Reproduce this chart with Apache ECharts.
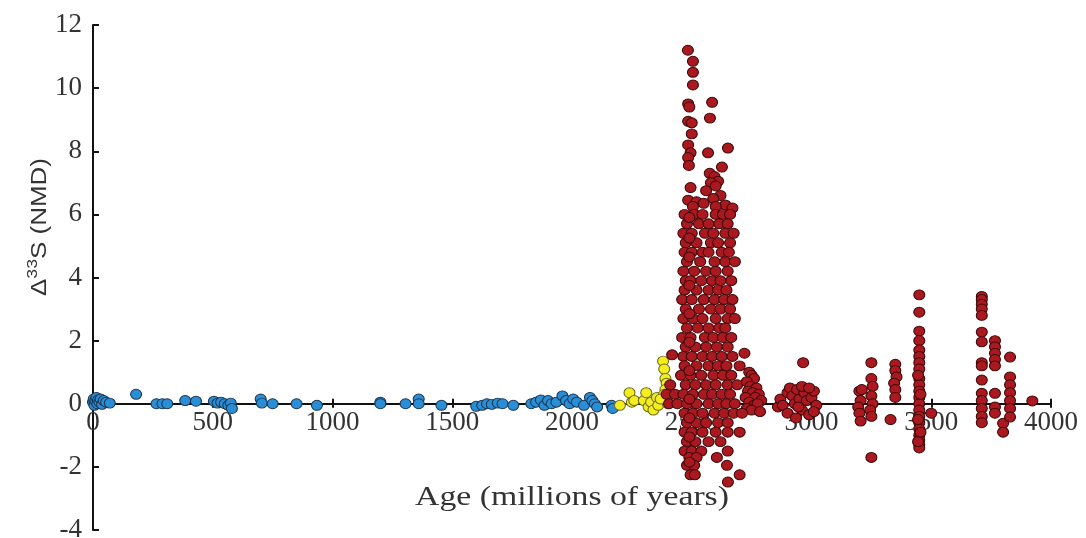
<!DOCTYPE html>
<html>
<head>
<meta charset="utf-8">
<script src="https://cdn.jsdelivr.net/npm/echarts@6/dist/echarts.min.js"></script>
<style>html,body{margin:0;padding:0;background:#fff;}#c{width:1086px;height:538px;}</style>
</head>
<body>
<div id="c"></div>
<script>
// ---- data (age in millions of years, Δ33S) ----
var xTicks = [0, 500, 1000, 1500, 2000, 2500, 3000, 3500, 4000];
var yTicks = [-4, -2, 0, 2, 4, 6, 8, 10, 12];

var bluePoints = [
  [0,0.05],[3,0.15],[6,-0.05],[10,0.1],[14,0.2],[18,0.0],[22,0.12],[27,0.05],[32,0.15],[38,-0.02],[45,0.1],[55,0.05],[70,0.02],
  [180,0.3],
  [265,0.0],[290,0.0],[310,0.0],
  [385,0.1],[430,0.08],
  [505,0.08],[520,0.02],[535,0.05],[550,0.0],[565,-0.05],[575,0.02],[580,-0.15],
  [700,0.15],[705,0.02],[750,0.0],[850,0.0],[935,-0.05],
  [1200,0.05],[1200,0.0],[1305,0.0],[1360,0.15],[1360,0.0],[1455,-0.05],
  [1600,-0.08],[1625,-0.05],[1645,0.0],[1665,-0.02],[1690,0.02],[1710,0.0],[1755,-0.05],
  [1830,0.0],[1850,0.05],[1870,0.12],[1885,-0.05],[1900,0.1],[1915,0.0],[1935,0.05],[1960,0.25],[1975,0.1],[1990,0.0],
  [2005,0.15],[2020,0.05],[2050,-0.05],[2075,0.2],[2085,0.1],[2095,0.0],[2105,-0.1],[2165,-0.05],[2170,-0.15]
];

var yellowPoints = [
  [2200,-0.05],[2240,0.35],[2250,0.05],[2260,0.1],[2300,0.1],[2310,0.35],[2320,-0.1],[2330,0.05],[2340,-0.2],
  [2355,0.2],[2360,-0.05],[2380,1.35],[2385,1.1],[2390,0.8],[2395,0.65],[2390,0.45],[2385,0.3],[2395,0.1],[2400,0.0],[2370,0.15]
];

var redPoints = [
  // upper spike
  [2484,11.2],[2505,10.85],[2505,10.5],[2505,10.1],[2485,9.5],[2490,9.4],[2585,9.55],[2485,8.95],[2500,8.9],[2576,9.05],
  [2500,8.55],[2485,8.2],[2568,7.95],[2651,8.1],[2495,7.95],[2485,7.8],[2488,7.55],[2626,7.5],[2575,7.3],[2595,7.2],
  [2610,7.05],[2580,7.0],[2600,6.9],[2495,6.85],[2560,6.75],[2620,6.6],[2590,6.5],[2485,6.45],[2520,6.4],[2550,6.35],
  [2640,6.3],[2670,6.2],[2505,6.25],[2600,6.25],
  // dense column
  [2470,6.0],[2510,6.0],[2545,6.0],[2600,6.0],[2630,6.0],[2660,6.0],
  [2480,5.7],[2530,5.7],[2570,5.7],[2615,5.7],[2650,5.7],
  [2465,5.4],[2500,5.4],[2555,5.4],[2590,5.4],[2640,5.4],[2675,5.4],
  [2475,5.1],[2520,5.1],[2580,5.1],[2610,5.1],[2660,5.1],
  [2470,4.8],[2500,4.8],[2545,4.8],[2570,4.8],[2625,4.8],[2655,4.8],
  [2480,4.5],[2535,4.5],[2595,4.5],[2640,4.5],[2680,4.5],
  [2465,4.2],[2510,4.2],[2560,4.2],[2600,4.2],[2650,4.2],
  [2475,3.9],[2495,3.9],[2540,3.9],[2585,3.9],[2620,3.9],[2665,3.9],
  [2470,3.6],[2520,3.6],[2570,3.6],[2610,3.6],[2645,3.6],
  [2460,3.3],[2500,3.3],[2550,3.3],[2595,3.3],[2635,3.3],[2670,3.3],
  [2475,3.0],[2530,3.0],[2580,3.0],[2620,3.0],[2660,3.0],
  [2465,2.7],[2505,2.7],[2545,2.7],[2600,2.7],[2650,2.7],[2680,2.7],
  [2480,2.4],[2525,2.4],[2570,2.4],[2615,2.4],[2640,2.4],
  [2460,2.1],[2495,2.1],[2555,2.1],[2590,2.1],[2630,2.1],[2665,2.1],
  [2475,1.8],[2515,1.8],[2560,1.8],[2605,1.8],[2650,1.8],
  [2418,1.55],[2465,1.5],[2500,1.5],[2545,1.5],[2585,1.5],[2625,1.5],[2670,1.5],
  [2470,1.2],[2520,1.2],[2570,1.2],[2610,1.2],[2645,1.2],
  [2455,0.9],[2495,0.9],[2540,0.9],[2590,0.9],[2630,0.9],[2665,0.9],
  [2410,0.6],[2475,0.6],[2515,0.6],[2560,0.6],[2600,0.6],[2650,0.6],[2690,0.6],
  [2395,0.3],[2430,0.3],[2465,0.3],[2505,0.3],[2550,0.3],[2585,0.3],[2625,0.3],[2660,0.3],
  [2405,0.0],[2440,0.0],[2480,0.0],[2520,0.0],[2570,0.0],[2610,0.0],[2645,0.0],[2680,0.0],
  [2470,-0.3],[2505,-0.3],[2545,-0.3],[2595,-0.3],[2635,-0.3],[2675,-0.3],
  [2480,-0.6],[2520,-0.6],[2560,-0.6],[2610,-0.6],[2650,-0.6],
  [2470,-0.9],[2500,-0.9],[2545,-0.9],[2600,-0.9],[2650,-0.9],[2700,-0.9],
  [2480,-1.2],[2515,-1.2],[2570,-1.2],[2620,-1.2],
  [2470,-1.5],[2500,-1.5],[2540,-1.5],[2650,-1.5],
  [2490,-1.7],[2520,-1.7],[2605,-1.7],
  [2480,-1.95],[2510,-1.95],[2647,-1.95],
  [2495,-2.25],[2513,-2.25],[2700,-2.25],
  [2651,-2.48],
  [2490,5.9],[2490,5.25],[2490,4.65],[2490,3.75],[2490,2.85],[2490,1.95],[2490,1.05],[2490,0.15],[2490,-0.45],[2490,-1.05],[2490,-1.85],
  // group ~2700-2790
  [2720,1.6],[2700,1.2],[2740,1.0],[2750,0.9],[2760,0.8],[2730,0.7],[2745,0.55],[2770,0.5],[2735,0.4],[2755,0.35],
  [2780,0.3],[2725,0.2],[2765,0.2],[2790,0.1],[2740,0.05],[2760,-0.05],[2775,0.0],[2730,-0.15],[2750,-0.2],[2785,-0.25],[2710,-0.3],
  [2860,-0.1],
  // group ~2870-3020
  [2965,1.3],[2870,0.15],[2880,-0.05],[2900,0.35],[2910,0.5],[2920,0.25],[2930,0.0],[2940,0.45],[2950,0.15],[2960,-0.2],
  [2970,0.35],[2980,0.1],[2990,-0.35],[3000,0.2],[3010,0.4],[3020,-0.05],[2900,-0.3],[2935,-0.45],[2960,0.55],[2945,-0.1],
  [2990,0.5],[3010,-0.25],
  // group ~3200-3260
  [3200,0.4],[3205,0.1],[3195,-0.1],[3200,-0.3],[3205,-0.55],
  [3250,1.3],[3250,0.8],[3255,0.55],[3250,0.25],[3255,0.0],[3245,-0.2],[3250,-0.4],[3250,-1.7],[3210,0.45],
  // group ~3350
  [3350,1.25],[3350,1.05],[3355,0.85],[3345,0.65],[3350,0.45],[3350,0.2],[3330,-0.5],
  // group ~3450
  [3450,3.45],[3450,2.9],[3450,2.3],[3450,2.0],[3450,1.7],[3450,1.5],[3450,1.3],[3450,1.1],[3450,0.8],[3450,0.6],
  [3450,0.4],[3450,0.2],[3450,0.0],[3450,-0.2],[3450,-0.4],[3450,-0.6],[3450,-0.8],[3450,-1.0],[3450,-1.15],[3450,-1.3],
  [3450,-1.4],[3445,-1.2],[3455,-0.9],[3500,-0.3],[3445,0.9],[3455,0.3],[3445,-0.5],
  // group ~3710-3830
  [3711,3.4],[3711,3.3],[3711,3.15],[3711,3.0],[3711,2.8],[3711,2.27],[3711,1.96],[3711,1.3],[3711,1.2],[3711,0.75],
  [3711,0.33],[3711,0.1],[3711,-0.15],[3711,-0.4],[3711,-0.6],
  [3766,2.0],[3766,1.8],[3766,1.6],[3766,1.4],[3766,1.2],[3766,0.33],[3766,-0.1],[3766,-0.3],[3800,-0.62],[3800,-0.9],
  [3829,1.48],[3829,0.85],[3829,0.6],[3829,0.35],[3829,0.1],[3829,-0.15],[3829,-0.42],
  [3922,0.09]
];

var chart = echarts.init(document.getElementById('c'));
var serif = "'Liberation Serif', 'DejaVu Serif', serif";
var sans = "'Liberation Sans', 'DejaVu Sans', sans-serif";

var gridTop = 25, gridBottomPx = 530;
var yMin = yTicks[0], yMax = yTicks[yTicks.length - 1];
// shift the x axis up so that it sits at value 0 of the y axis
var zeroOffset = -((gridBottomPx - gridTop) * (0 - yMin) / (yMax - yMin));

function mk(data, fill, border) {
  return {
    type: 'scatter',
    data: data,
    symbol: 'circle',
    symbolSize: [11, 10],
    itemStyle: { color: fill, borderColor: border, borderWidth: 1, opacity: 1 },
    emphasis: { disabled: true },
    silent: true
  };
}

chart.setOption({
  animation: false,
  backgroundColor: '#ffffff',
  grid: { left: 93, right: 35, top: gridTop, bottom: 538 - gridBottomPx, containLabel: false, outerBoundsMode: 'none' },
  xAxis: [{
    type: 'value', min: xTicks[0], max: xTicks[xTicks.length - 1], interval: 500,
    position: 'bottom', offset: zeroOffset,
    axisLine: { onZero: false, lineStyle: { color: '#111', width: 2 } },
    axisTick: { show: true, inside: true, length: 5, lineStyle: { color: '#111', width: 2 } },
    axisLabel: { show: true, margin: 6, color: '#333', fontFamily: serif, fontSize: 27,
                 formatter: function (v) { return String(v); } },
    splitLine: { show: false }
  }, {
    type: 'value', min: xTicks[0], max: xTicks[xTicks.length - 1], interval: 500,
    position: 'bottom', offset: zeroOffset,
    axisLine: { onZero: false, show: false },
    axisTick: { show: true, inside: false, length: 4, lineStyle: { color: '#111', width: 2 } },
    axisLabel: { show: false },
    splitLine: { show: false }
  }],
  yAxis: {
    type: 'value', min: yMin, max: yMax, interval: 2,
    axisLine: { onZero: false, lineStyle: { color: '#111', width: 2 } },
    axisTick: { show: true, inside: true, length: 6, lineStyle: { color: '#111', width: 2 } },
    axisLabel: { margin: 11, color: '#333', fontFamily: serif, fontSize: 27,
                 formatter: function (v) { return String(v); } },
    splitLine: { show: false }
  },
  graphic: [{
    type: 'text', x: 38, y: 227, rotation: Math.PI / 2, scaleX: 1.18,
    style: {
      text: '{a|Δ}{s|33}{a|S (NMD)}',
      textAlign: 'center', textVerticalAlign: 'middle',
      rich: {
        a: { fontFamily: sans, fontSize: 22, fill: '#333', lineHeight: 26, verticalAlign: 'bottom' },
        s: { fontFamily: sans, fontSize: 15, fill: '#333', lineHeight: 26, verticalAlign: 'top' }
      }
    }
  }, {
    type: 'text', x: 572, y: 498, scaleX: 1.25,
    style: {
      text: 'Age (millions of years)', fill: '#333',
      font: '27px ' + serif, textAlign: 'center', textVerticalAlign: 'middle'
    }
  }],
  series: [
    mk(bluePoints, '#2a8ed6', '#1b3550'),
    mk(yellowPoints, '#f4ee1f', '#6b6a1e'),
    mk(redPoints, '#aa1820', '#3a0808')
  ]
});
</script>
</body>
</html>
